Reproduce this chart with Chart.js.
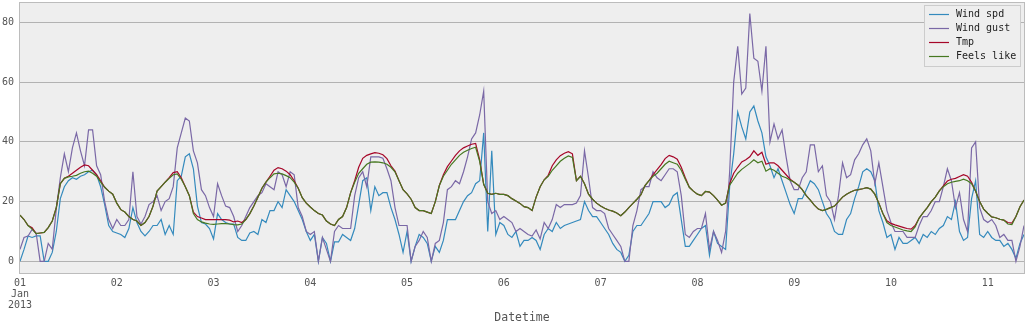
<!DOCTYPE html>
<html>
<head>
<meta charset="utf-8">
<script src="https://cdn.jsdelivr.net/npm/chart.js@4.4.1/dist/chart.umd.min.js"></script>
<style>
  html, body { margin: 0; padding: 0; background: #ffffff; }
  #wrap { width: 1030px; height: 329px; }
</style>
</head>
<body>
<div id="wrap"><canvas id="myChart" width="1030" height="329"></canvas></div>
<script>
// hourly readings from 01 Jan 2013 00:00, one value per hour
const seriesNames = ["Wind spd", "Wind gust", "Tmp", "Feels like"];
const dayLabels = ["01", "02", "03", "04", "05", "06", "07", "08", "09", "10", "11"];
const yTicks = [0, 20, 40, 60, 80];

const windSpd = [
  0, 4, 8.5, 8, 8.5, 8.5, 0, 0, 3, 10,
  21, 25, 27, 28, 27.5, 28.5, 29, 30, 30.5, 29,
  25, 19, 12, 10, 9.5, 9, 8, 11, 18, 13,
  10, 8.5, 10, 12, 12, 14, 9, 12, 9, 27,
  28.5, 35, 36, 31, 18.5, 13, 12.5, 11, 7.5, 16,
  14, 13, 12.5, 12.5, 8, 7, 7, 9.5, 10, 9,
  14, 13, 17, 17, 20, 18, 24, 22, 20, 17,
  14, 10, 7, 9, 0, 8, 6, 0, 6.5, 6.5,
  9, 8, 7, 11, 19, 27, 28, 17, 25, 22,
  23, 23, 18, 14, 9, 3, 10, 0, 5, 9,
  8, 6, 0, 5, 3, 7, 14, 14, 14, 17,
  20, 22, 23, 26, 27, 43, 10, 37, 9, 13,
  12, 9, 8, 10, 5, 7, 7, 8, 7, 4,
  9, 11, 10, 13, 11, 12, 12.5, 13, 13.5, 14,
  20, 17, 15, 15, 13, 11, 9, 6, 4, 3,
  0, 2, 10, 12, 12, 14, 16, 20, 20, 20,
  18, 19, 22, 23, 14, 5, 5, 7, 9, 11,
  12, 2, 10, 6, 5, 4, 25, 36, 50, 45,
  41, 50, 52, 47, 43, 35, 32, 28, 31, 27,
  23, 19, 16, 21, 21, 24, 27, 26, 24, 20,
  16, 14, 10, 9, 9, 14, 16, 21, 25, 30,
  31, 30, 27, 17, 13, 8, 9, 4, 8, 6,
  6, 7, 8, 6, 9, 8, 10, 9, 11, 12,
  15, 14, 20, 10, 7, 8, 21, 27, 9, 8,
  10, 8, 7, 7, 5, 6, 4, 1, 6, 9
];

const windGust = [
  4, 8, 8.5, 10.7, 9.5, 0, 0, 6, 4, 17.5,
  28, 36, 30, 38, 43, 37, 32, 44, 44, 32,
  29, 20, 14, 11, 14, 12, 12, 14, 30, 15,
  12.5, 15, 19, 20, 22, 17, 20, 21, 25, 38,
  43, 48, 47, 37, 33, 24, 22, 18, 15, 26,
  22, 18.5, 18, 15, 10, 12, 15, 18, 20, 22,
  23, 26, 25, 24, 30, 29, 25, 30, 29, 18,
  15, 10, 9, 10, 0, 8, 4, 0, 10, 12,
  11, 11, 11, 22, 28, 30, 25, 35, 35, 35,
  34.5, 31, 27, 18, 12, 12, 12, 0, 5, 7,
  10, 8, 0, 6, 7, 13, 24, 25, 27, 26,
  30, 35, 41, 43, 49, 57, 20, 16, 17, 14,
  15, 14, 13, 10, 11, 10, 9, 8.5, 10.5, 7.5,
  13, 11, 14, 19, 18, 19, 19, 19, 19.5, 22,
  37, 28, 18, 17, 17, 16, 11, 9, 7, 5,
  0, 0, 12, 17, 24, 25, 25, 30, 28, 27,
  29, 31, 31, 30, 22, 9, 8, 10, 11, 11,
  16, 4, 10, 7, 3, 10, 30, 60, 72, 56,
  58, 83, 68, 67, 57, 72, 40, 46, 41, 44,
  35, 27, 24, 24, 28, 30, 39, 39, 30, 32,
  22, 20, 14, 22, 33, 28, 29, 34, 36, 39,
  41, 37, 26, 33, 25, 17, 13, 10, 10, 10,
  8, 8, 8, 12, 15, 15, 17, 20, 20, 25,
  31, 27, 18, 23, 14, 10, 38, 40, 18, 14,
  13, 14, 12, 8, 9, 7, 7, 0, 5, 12
];

const tmp = [
  15.5, 14, 12, 11.3, 9.3, 9.5, 9.7, 11.3, 13.5, 18,
  26, 27.8, 28.5, 29.5, 30.5, 31.5, 32.3, 32, 30.5, 29,
  27, 24.8, 23.5, 22.5, 19.5, 17.3, 16.5, 15, 14, 13.5,
  12, 13, 15, 18.5, 23.5, 25, 26.5, 28, 29.7, 30,
  28, 25, 22, 16.5, 15, 14.5, 14, 14, 14, 14,
  14, 14, 13.8, 13.2, 13.5, 13, 14, 16, 18.5, 21.5,
  24.5, 26.5, 28.5, 30.5, 31.4, 31, 30.2, 29, 27, 24.5,
  21.3, 19.5, 18.2, 17, 16, 15.5, 13.5, 12.5, 12, 14,
  15, 18, 23, 27, 31.5, 34.5, 35.5, 36, 36.4, 36.2,
  35.7, 34.4, 32, 30.2, 27, 24, 22.6, 20.8, 18, 17,
  17, 16.5, 16, 20, 25.4, 29, 31.7, 33.6, 35.5, 37,
  38, 38.6, 39.2, 39.5, 34, 25.8, 22.8, 22.4, 22.8, 22.4,
  22.4, 22, 21, 20.2, 19.4, 18.3, 18, 17, 21.5, 25,
  27.3, 28.8, 32, 34, 35.4, 36.2, 36.7, 36, 27, 28.5,
  26, 22.5, 20.8, 19.5, 18.5, 17.8, 17.2, 16.8, 16.2, 15.3,
  16.5, 18, 19.4, 20.8, 22.3, 25.4, 27, 29, 30.7, 32.4,
  34.4, 35.5, 35, 34.2, 31.5, 28, 24.8, 23.5, 22.5, 22,
  23.4, 23.2, 22, 20.5, 18.8, 19.5, 26, 29.5, 31.5, 33.3,
  34, 35, 37, 35.5, 36.5, 32.5, 33, 33, 32, 30.5,
  29, 27.5, 26.5, 25.5, 24, 22, 20.5, 18.8, 17.5, 17,
  17.4, 18, 18.5, 20, 21.5, 22.5, 23.2, 23.8, 24, 24.3,
  24.7, 24.2, 22.5, 19.5, 16, 13.6, 12.7, 12.2, 11.8, 11.4,
  11, 10.8, 12, 14.5, 16.3, 18, 20, 21.5, 23.6, 25.3,
  26.9, 27.5, 27.8, 28.4, 29, 28.5, 26.5, 23.5, 20, 17.5,
  16.1, 14.9, 14.6, 14.1, 13.8, 13, 12.8, 15, 18.3, 20.5
];

const feelsLike = [
  15.5, 14, 12, 10.8, 9.3, 9.5, 9.7, 11.3, 13.5, 18,
  26, 27.8, 28.3, 28.5, 28.8, 29.5, 30, 30.2, 29.5, 28.5,
  26.5, 24.8, 23.5, 22.5, 19.5, 17.3, 16.5, 15, 14, 13.5,
  12, 13, 15, 18.5, 23.5, 25, 26.5, 27.8, 29, 29.3,
  27.5, 25, 22, 16, 14, 13.2, 12.8, 12.5, 12.4, 12.5,
  12.6, 12.6, 12.5, 12.3, 12.2, 12.5, 14, 16, 18.5, 21.5,
  24.5, 26.5, 28, 29.3, 29.5, 29.3, 28.7, 28, 26.5, 24.5,
  21.3, 19.5, 18.2, 17, 16, 15.5, 13.5, 12.5, 12, 14,
  15, 18, 23, 26.5, 29.5, 31, 32.5, 33.2, 33.3, 33.2,
  33, 32.5, 31.5, 30, 27, 24, 22.6, 20.8, 18, 17,
  17, 16.5, 16, 20, 25.4, 28.5, 30.5, 32.5, 34, 35.5,
  36.5, 37.2, 37.8, 38.2, 33.5, 25.8, 22.8, 22.4, 22.8, 22.4,
  22.4, 22, 21, 20.2, 19.4, 18.3, 18, 17, 21.5, 25,
  27.3, 28.5, 30.5, 32, 33.5, 34.5, 35.3, 34.8, 27, 28.5,
  26, 22.5, 20.8, 19.5, 18.5, 17.8, 17.2, 16.8, 16.2, 15.3,
  16.5, 18, 19.4, 20.8, 22.3, 25.4, 27, 28.5, 29.5, 31,
  32.5, 33.5, 33, 32.5, 30.5, 27.5, 24.8, 23.5, 22.5, 22,
  23.4, 23.2, 22, 20.5, 18.8, 19.5, 25.5, 27.5, 29.5, 30.8,
  31.8, 32.8, 34, 33, 33.5, 30.2, 31, 30.5, 29.5, 28.5,
  28, 27.2, 26.5, 25.5, 24, 22, 20.5, 18.8, 17.5, 17,
  17.4, 18, 18.5, 20, 21.5, 22.5, 23.2, 23.8, 24, 24.3,
  24.7, 24.2, 22.5, 19.5, 16, 13, 12, 11.5, 11, 10.5,
  10.2, 10, 11.5, 14.5, 16.3, 18, 20, 21.5, 23.6, 25,
  26, 26.5, 26.8, 27, 27.5, 27, 26, 23.5, 20, 17.5,
  16.1, 14.9, 14.6, 14.1, 13.8, 12.5, 12.3, 15, 18.3, 20.5
];

const colors = ["#348ABD", "#7A68A6", "#A60628", "#467821"];
const monoFont = "'DejaVu Sans Mono', 'Liberation Mono', monospace";

const toPoints = (arr) => arr.map((v, i) => ({ x: i, y: v }));
const lastHour = windSpd.length - 1;

// grey plot area + light frame, like the bmh style
const plotFrame = {
  id: "plotFrame",
  beforeDraw(chart) {
    const { ctx, chartArea: a } = chart;
    ctx.save();
    ctx.fillStyle = "#eeeeee";
    ctx.fillRect(a.left, a.top, a.right - a.left, a.bottom - a.top);
    ctx.restore();
  },
  afterDatasetsDraw(chart) {
    const { ctx, chartArea: a } = chart;
    ctx.save();
    ctx.strokeStyle = "#bcbcbc";
    ctx.lineWidth = 1;
    ctx.strokeRect(Math.round(a.left) - 0.5, Math.round(a.top) - 0.5,
      Math.round(a.right - a.left) + 1, Math.round(a.bottom - a.top) + 1);
    ctx.restore();
  }
};

// legend box in the upper right corner of the plot
const innerLegend = {
  id: "innerLegend",
  afterDraw(chart) {
    const { ctx, chartArea: a } = chart;
    const boxW = 97, boxH = 62;
    const x0 = a.right - boxW - 3, y0 = a.top + 2;
    ctx.save();
    ctx.fillStyle = "#eeeeee";
    ctx.strokeStyle = "#cccccc";
    ctx.lineWidth = 1;
    ctx.fillRect(x0, y0, boxW, boxH);
    ctx.strokeRect(x0 + 0.5, y0 + 0.5, boxW - 1, boxH - 1);
    ctx.font = "10px " + monoFont;
    ctx.textBaseline = "middle";
    seriesNames.forEach((name, i) => {
      const y = y0 + 9.5 + i * 14;
      ctx.strokeStyle = colors[i];
      ctx.lineWidth = 1.2;
      ctx.beginPath();
      ctx.moveTo(x0 + 5, y);
      ctx.lineTo(x0 + 25, y);
      ctx.stroke();
      ctx.fillStyle = "#222222";
      ctx.fillText(name, x0 + 32, y);
    });
    ctx.restore();
  }
};

const seriesData = [windSpd, windGust, tmp, feelsLike];

const data = {
  datasets: seriesNames.map((name, i) => ({
    label: name,
    data: toPoints(seriesData[i]),
    borderColor: colors[i],
    backgroundColor: colors[i],
    borderWidth: 1.2,
    pointRadius: 0,
    tension: 0,
    order: 3 - i
  }))
};

const config = {
  type: "line",
  data,
  options: {
    responsive: false,
    devicePixelRatio: 1,
    animation: false,
    parsing: false,
    layout: { padding: { top: 3, right: 6, left: 0, bottom: 0 } },
    plugins: {
      legend: { display: false },
      tooltip: { enabled: false }
    },
    scales: {
      x: {
        type: "linear",
        min: 0,
        max: lastHour,
        grid: { display: false, drawTicks: false },
        border: { display: false },
        ticks: {
          padding: 5,
          maxRotation: 0,
          autoSkip: false,
          color: "#555555",
          font: { family: monoFont, size: 10, lineHeight: 1.1 },
          callback: (v) => {
            const d = dayLabels[Math.round(v / 24)];
            return v === 0 ? [d, "Jan", "2013"] : d;
          }
        },
        afterBuildTicks: (s) => { s.ticks = dayLabels.map((d, i) => ({ value: i * 24 })); },
        afterFit: (s) => { s.height = 56; s.paddingLeft = 0; s.paddingRight = 0; },
        title: {
          display: true,
          text: "Datetime",
          color: "#555555",
          font: { family: monoFont, size: 11.5 },
          padding: { top: 0, bottom: 4 }
        }
      },
      y: {
        min: -3.9,
        max: 86.5,
        grid: { color: "#b2b2b2", lineWidth: 1, drawTicks: false },
        border: { display: false },
        ticks: {
          padding: 6,
          color: "#555555",
          font: { family: monoFont, size: 10 }
        },
        afterBuildTicks: (s) => { s.ticks = yTicks.map(v => ({ value: v })); },
        afterFit: (s) => { s.width = 20; s.paddingTop = 0; s.paddingBottom = 0; }
      }
    }
  },
  plugins: [plotFrame, innerLegend]
};

const myChart = new Chart(document.getElementById("myChart"), config);
</script>
</body>
</html>
